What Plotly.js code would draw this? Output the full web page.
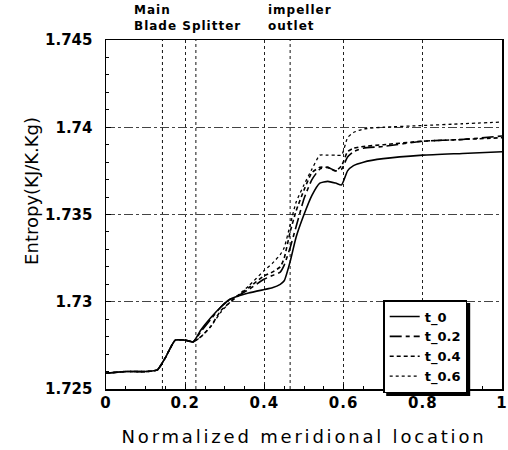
<!DOCTYPE html>
<html>
<head>
<meta charset="utf-8">
<script src="https://cdn.plot.ly/plotly-3.0.1.min.js"></script>
<style>
  html, body { margin: 0; padding: 0; background: #fff; }
  #chart { width: 508px; height: 450px; }
  .g-xtitle text { letter-spacing: 2.8px; }
  .xtick text { letter-spacing: 1px; }
  g.annotation[data-index="1"] text, g.annotation[data-index="2"] text { letter-spacing: 1px; }
</style>
</head>
<body>
<div id="chart"></div>
<script>
// Normalized meridional location
const xLoc = [0, 0.05, 0.1, 0.13, 0.15, 0.175, 0.2, 0.22, 0.24, 0.265, 0.29, 0.31, 0.33, 0.36, 0.4, 0.42, 0.44, 0.45, 0.465, 0.48, 0.5, 0.52, 0.54, 0.56, 0.58, 0.595, 0.61, 0.625, 0.65, 0.7, 0.8, 0.9, 1.0];

// Entropy (KJ/K.Kg)
const t0  = [1.7259, 1.7260, 1.7260, 1.7261, 1.7268, 1.7278, 1.7278, 1.7277, 1.7284, 1.7291, 1.7297, 1.7301, 1.7303, 1.7305, 1.7307, 1.7308, 1.7310, 1.7312, 1.7323, 1.7337, 1.7350, 1.7361, 1.7368, 1.7369, 1.7368, 1.7367, 1.7375, 1.7378, 1.7380, 1.7382, 1.7384, 1.7385, 1.7386];
const t02 = [1.7259, 1.7260, 1.7260, 1.7261, 1.7268, 1.7278, 1.7278, 1.7277, 1.7283, 1.7290, 1.7297, 1.7301, 1.7303, 1.7307, 1.7313, 1.7315, 1.7317, 1.7321, 1.7331, 1.7343, 1.7359, 1.7370, 1.7376, 1.7377, 1.7375, 1.7376, 1.7383, 1.7386, 1.7388, 1.7389, 1.7392, 1.7393, 1.7395];
const t04 = [1.7259, 1.7260, 1.7260, 1.7261, 1.7268, 1.7278, 1.7278, 1.7277, 1.7280, 1.7286, 1.7295, 1.7299, 1.7303, 1.7308, 1.7315, 1.7317, 1.7320, 1.7325, 1.7340, 1.7352, 1.7364, 1.7374, 1.7377, 1.7377, 1.7375, 1.7378, 1.7386, 1.7388, 1.7389, 1.7390, 1.7392, 1.7393, 1.7394];
const t06 = [1.7259, 1.7260, 1.7260, 1.7261, 1.7268, 1.7278, 1.7278, 1.7277, 1.7280, 1.7286, 1.7294, 1.7299, 1.7303, 1.7309, 1.7318, 1.7322, 1.7327, 1.7331, 1.7344, 1.7357, 1.7367, 1.7376, 1.7384, 1.7384, 1.7384, 1.7384, 1.7394, 1.7397, 1.7399, 1.7400, 1.7401, 1.7402, 1.7403];

const seriesNames = ['t_0', 't_0.2', 't_0.4', 't_0.6'];

// Marker lines (main blade / splitter / impeller outlet)
const markerX = [0.1425, 0.227, 0.465];

const xTickVals = [0, 0.2, 0.4, 0.6, 0.8, 1];
const xTickText = ['0', '0.2', '0.4', '0.6', '0.8', '1'];
const yTickVals = [1.725, 1.73, 1.735, 1.74, 1.745];
const yTickText = ['1.725', '1.73', '1.735', '1.74', '1.745'];

const dashes = ['solid', '12px,4px,4px,4px', '4px,3px', 'dot'];
const widths = [1.6, 1.6, 1.6, 1.3];
const ys = [t0, t02, t04, t06];

const traces = ys.map((y, i) => ({
  x: xLoc, y: y, type: 'scatter', mode: 'lines', name: seriesNames[i],
  line: { color: '#000', width: widths[i], dash: dashes[i], shape: 'spline', smoothing: 0.5 }
}));

const shapes = markerX.map(v => ({
  type: 'line', xref: 'x', yref: 'paper', x0: v, x1: v, y0: 0, y1: 1,
  line: { color: '#111', width: 1, dash: 'dot' }, layer: 'below'
}));

const layout = {
  width: 508, height: 450,
  margin: { l: 106, r: 6, t: 40, b: 61 },
  paper_bgcolor: '#fff', plot_bgcolor: '#fff',
  showlegend: true,
  legend: {
    x: 0.7, y: 0.255, xanchor: 'left', yanchor: 'top',
    bgcolor: '#fff', bordercolor: '#000', borderwidth: 1.5,
    font: { family: 'DejaVu Sans', size: 13, color: '#000', weight: 'bold' },
    tracegroupgap: 0
  },
  xaxis: {
    range: [0, 1], tickmode: 'array', tickvals: xTickVals, ticktext: xTickText,
    ticks: 'inside', ticklen: 5, tickcolor: '#000',
    minor: { tickmode: 'linear', tick0: 0, dtick: 0.05, ticks: 'inside', ticklen: 3, tickcolor: '#000', showgrid: false },
    showline: true, linecolor: '#000', linewidth: 1.5, mirror: true,
    showgrid: true, gridcolor: '#222', griddash: 'dot', gridwidth: 1,
    zeroline: false,
    tickfont: { family: 'DejaVu Sans', size: 15, color: '#000', weight: 'bold' },
    ticklabelstandoff: -1,
    title: { text: 'Normalized meridional location', standoff: 20,
             font: { family: 'DejaVu Sans', size: 18, color: '#000' } }
  },
  yaxis: {
    range: [1.725, 1.745], tickmode: 'array', tickvals: yTickVals, ticktext: yTickText,
    ticks: 'inside', ticklen: 5, tickcolor: '#000',
    minor: { tickmode: 'linear', tick0: 1.725, dtick: 0.001, ticks: 'inside', ticklen: 3, tickcolor: '#000', showgrid: false },
    showline: true, linecolor: '#000', linewidth: 1.5, mirror: true,
    showgrid: true, gridcolor: '#444', griddash: 'dashdot', gridwidth: 1,
    zeroline: false,
    tickfont: { family: 'DejaVu Sans', size: 15, color: '#000', weight: 'bold' },
    ticklabelstandoff: 9
  },
  shapes: shapes,
  annotations: [
    { text: 'Entropy(KJ/K.Kg)', xref: 'paper', yref: 'paper', x: -0.19, y: 0.567,
      xanchor: 'center', yanchor: 'middle', textangle: -90, showarrow: false,
      font: { family: 'DejaVu Sans', size: 18, color: '#000' } },
    { text: 'Main<br>Blade Splitter', xref: 'paper', yref: 'paper', x: 0.065, y: 1.0,
      xanchor: 'left', yanchor: 'bottom', align: 'left', showarrow: false, yshift: 5,
      font: { family: 'DejaVu Sans', size: 12, color: '#000', weight: 'bold' } },
    { text: 'impeller<br>outlet', xref: 'paper', yref: 'paper', x: 0.405, y: 1.0,
      xanchor: 'left', yanchor: 'bottom', align: 'left', showarrow: false, yshift: 5,
      font: { family: 'DejaVu Sans', size: 12, color: '#000', weight: 'bold' } }
  ]
};

const gd = document.getElementById('chart');
Plotly.newPlot(gd, traces, layout, { displayModeBar: false, staticPlot: true });

// drop shadow behind the legend box (style only), sized from the rendered legend
(function addShadow() {
  const fl = gd._fullLayout;
  if (!fl || !fl.legend) return;
  const sz = fl._size, lg = fl.legend;
  const w = lg._width, h = lg._height;
  if (!w || !h) return;
  const off = 3;
  const x0 = lg.x + off / sz.w, x1 = lg.x + (w + off) / sz.w;
  const y1 = lg.y - off / sz.h, y0 = lg.y - (h + off) / sz.h;
  Plotly.relayout(gd, { shapes: shapes.concat([{
    type: 'rect', xref: 'paper', yref: 'paper', x0: x0, x1: x1, y0: y0, y1: y1,
    fillcolor: '#000', line: { width: 0 }, layer: 'above'
  }]) });
})();
</script>
</body>
</html>
